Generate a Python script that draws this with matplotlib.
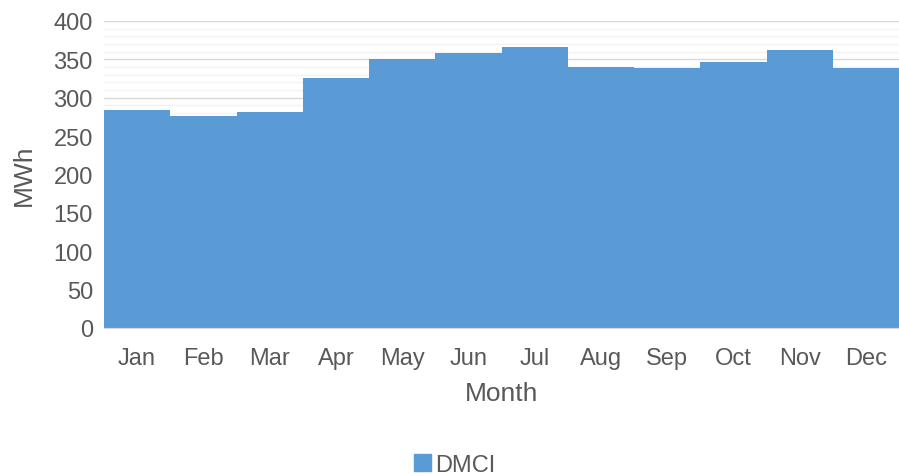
import matplotlib
matplotlib.use("Agg")
from matplotlib import pyplot as plt
from matplotlib.patches import Patch

# monthly energy
months = ['Jan', 'Feb', 'Mar', 'Apr', 'May', 'Jun', 'Jul', 'Aug', 'Sep', 'Oct', 'Nov', 'Dec']
dmci = [284.4, 276.6, 281.4, 325.5, 350.0, 358.7, 365.7, 339.8, 339.3, 346.6, 362.7, 339.2]
yticks = [0, 50, 100, 150, 200, 250, 300, 350, 400]

plt.rcParams['font.family'] = ['Liberation Sans', 'DejaVu Sans']
txt = '#595959'
blue = '#5B9BD5'

fig = plt.figure(figsize=(8.99, 4.77), dpi=100)
ax = fig.add_axes([104/899, 148/477, 795/899, 307/477])

ax.bar(range(len(months)), dmci, width=1.0, color=blue, edgecolor='none', zorder=3, label='DMCI')

ax.set_ylim(0, 400)
ax.set_xlim(-0.5, len(months) - 0.5)
ax.set_yticks(yticks)
ax.set_yticks(range(0, 401, 10), minor=True)
ax.grid(axis='y', which='minor', color='#F2F2F2', lw=1.0, zorder=0)
ax.grid(axis='y', which='major', color='#D9D9D9', lw=1.0, zorder=1)
ax.set_xticks(range(len(months)))
ax.set_xticklabels(months)
ax.tick_params(axis='both', which='both', length=0, labelsize=17, colors=txt)
ax.tick_params(axis='x', pad=14)
ax.tick_params(axis='y', pad=8)
for s in ['top', 'right', 'left']:
    ax.spines[s].set_visible(False)
ax.spines['bottom'].set_color('#D9D9D9')
ax.spines['bottom'].set_zorder(4)

ax.set_xlabel('Month', fontsize=19, color=txt, labelpad=8)
ax.set_ylabel('MWh', fontsize=19, color=txt, labelpad=13)

fig.legend(handles=[Patch(color=blue, label='DMCI')], loc='center', bbox_to_anchor=(455/899, 1 - 466/477),
           frameon=False, fontsize=17, handlelength=0.7, handleheight=0.7, handletextpad=0.2, labelcolor=txt)

fig.savefig('out.png', dpi=100)
